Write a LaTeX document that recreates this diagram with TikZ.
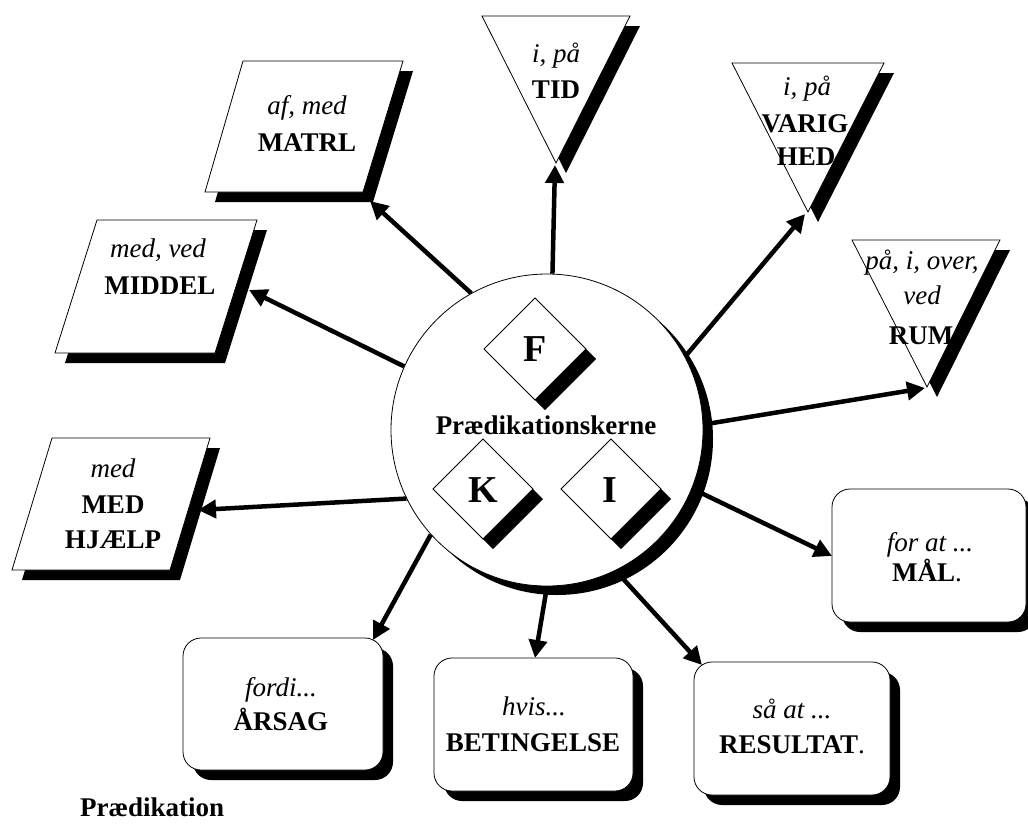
\documentclass[tikz,border=0pt]{standalone}
\usepackage{fontspec}
\setmainfont{Liberation Serif}
\usetikzlibrary{arrows.meta}
\newcommand\shad[2]{\fill[black,shift={(10,10)},#1] #2; \filldraw[fill=white,draw=black,line width=0.8pt,#1] #2;}
\tikzset{
  conn/.style={line width=4.5pt, -{Triangle[length=18pt,width=18pt]}},
  itl/.style={font=\fontsize{27}{32}\selectfont\itshape, anchor=base, inner sep=0pt},
  bfl/.style={font=\fontsize{27}{32}\selectfont\bfseries, anchor=base, inner sep=0pt},
  big/.style={font=\fontsize{38}{44}\selectfont\bfseries, anchor=base, inner sep=0pt},
  rbox/.style={rounded corners=18pt},
}
\begin{document}
\begin{tikzpicture}[x=1pt,y=-1pt]
\useasboundingbox (0,0) rectangle (1028,825);
% central circle
\fill[black] (557,439) circle (156pt);
\node[circle,draw,fill=white,line width=0.8pt,minimum size=312pt,inner sep=0pt] (core) at (547,430) {};
% diamonds
\shad{}{(535,298) -- (586,349) -- (535,400) -- (484,349) -- cycle}
\shad{}{(483,439) -- (533,489) -- (483,539) -- (433,489) -- cycle}
\shad{}{(611,439) -- (661,489) -- (611,539) -- (561,489) -- cycle}
\node[big] (F) at (535,361) {F};
\node[big] (K) at (483,502) {K};
\node[big] (I) at (610,502) {I};
\node[bfl] (kerne) at (546,434) {Prædikationskerne};
% triangles
\shad{}{(482,16) -- (630,16) -- (556,163) -- cycle}
\shad{}{(732,63) -- (884,63) -- (808,212) -- cycle}
\shad{}{(852,240) -- (1000,240) -- (927,387) -- cycle}
% parallelograms
\shad{}{(243,61) -- (403,61) -- (363,192) -- (205,192) -- cycle}
\shad{}{(97,220) -- (257,220) -- (215,353) -- (55,353) -- cycle}
\shad{}{(52,438) -- (210,438) -- (170,570) -- (12,570) -- cycle}
% rounded boxes
\shad{rbox}{(183,638) rectangle (383,770)}
\shad{rbox}{(434,658) rectangle (633,791)}
\shad{rbox}{(694,662) rectangle (890,795)}
\shad{rbox}{(832,489) rectangle (1026,622)}
% texts
\node[itl] (tid1) at (556,62) {i, på};
\node[bfl] (tid2) at (556,98) {TID};
\node[itl] (var1) at (807,95) {i, på};
\node[bfl] (var2) at (805,132) {VARIG};
\node[bfl] (var3) at (806,165) {HED};
\node[itl] (rum1) at (922,269) {på, i, over,};
\node[itl] (rum2) at (922,304) {ved};
\node[bfl] (rum3) at (921,344) {RUM};
\node[itl] (mat1) at (307,114) {af, med};
\node[bfl] (mat2) at (307,151) {MATRL};
\node[itl] (mid1) at (158,257) {med, ved};
\node[bfl] (mid2) at (160,294) {MIDDEL};
\node[itl] (mh1) at (113,477) {med};
\node[bfl] (mh2) at (113,513) {MED};
\node[bfl] (mh3) at (113,548) {HJÆLP};
\node[itl] (ars1) at (281,696) {fordi...};
\node[bfl] (ars2) at (281,730) {ÅRSAG};
\node[itl] (bet1) at (534,715) {hvis...};
\node[bfl] (bet2) at (533,751) {BETINGELSE};
\node[itl] (res1) at (792,718) {så at ...};
\node[bfl] (res2) at (792,753) {RESULTAT\textmd{.}};
\node[itl] (mal1) at (930,551) {for at ...};
\node[bfl] (mal2) at (927,581) {MÅL\textmd{.}};
\node[bfl,anchor=base west] (pred) at (80,816) {Prædikation};
% arrow tips
\coordinate (aMAT) at (370,201);
\coordinate (aMID) at (249,290);
\coordinate (aMH) at (198,510);
\coordinate (aTID) at (555,165);
\coordinate (aVAR) at (805,214);
\coordinate (aRUM) at (925,388);
\coordinate (aMAL) at (832,556);
\coordinate (aRES) at (702,665);
\coordinate (aBET) at (535,658);
\coordinate (aARS) at (373,640);
% connectors
\draw[conn] (core.119.8) -- (aMAT);
\draw[conn] (core.156.8) -- (aMID);
\draw[conn] (core.-154.3) -- (aMH);
\draw[conn] (core.88.9) -- (aTID);
\draw[conn] (core.28.2) -- (aVAR);
\draw[conn] (core.2.2) -- (aRUM);
\draw[conn] (core.-22) -- (aMAL);
\draw[conn] (core.-64.9) -- (aRES);
\draw[conn] (core.-90.7) -- (aBET);
\draw[conn] (core.-138.1) -- (aARS);
\end{tikzpicture}
\end{document}
